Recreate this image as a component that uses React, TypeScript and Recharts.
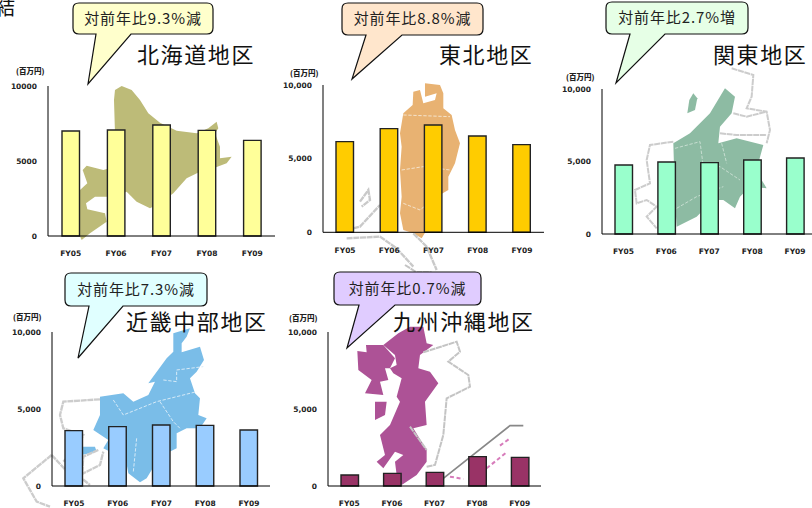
import { BarChart, Bar, XAxis, YAxis } from 'recharts';

const fiscalYears = ['FY05', 'FY06', 'FY07', 'FY08', 'FY09'];
const yTicks = [0, 5000, 10000];

const hokkaidoValues = [7000, 7067, 7400, 7044, 6378];
const tohokuValues = [6154, 7036, 7285, 6538, 5950];
const kantoValues = [4759, 4966, 4920, 5103, 5241];
const kinkiChubuValues = [3593, 3853, 3961, 3939, 3636];
const kyushuOkinawaValues = [714, 823, 887, 1905, 1861];

const JP_FONT = '"Noto Sans CJK JP", "Noto Sans", sans-serif';
const TICK_FONT = '"DejaVu Sans", sans-serif';

const AXIS_GUTTER = 40;
const TOP_PAD = 8;
const XAXIS_HEIGHT = 26;

interface RegionChartProps {
  values: number[];
  color: string;
  originX: number;
  topY: number;
  bottomY: number;
  band: number;
  grouped?: boolean;
}

const RegionChart = ({ values, color, originX, topY, bottomY, band, grouped = true }: RegionChartProps) => {
  const data = fiscalYears.map((name, i) => ({ name, value: values[i] }));
  return (
    <div style={{ position: 'absolute', left: originX - AXIS_GUTTER, top: topY - TOP_PAD }}>
      <BarChart
        width={AXIS_GUTTER + band * 5}
        height={TOP_PAD + (bottomY - topY) + XAXIS_HEIGHT}
        data={data}
        margin={{ top: TOP_PAD, right: 0, bottom: 0, left: 0 }}
        barCategoryGap="0%"
      >
        <XAxis
          dataKey="name"
          height={XAXIS_HEIGHT}
          tickLine={false}
          tickMargin={9}
          interval={0}
          axisLine={{ stroke: '#000', strokeWidth: 1 }}
          tick={{ fontSize: 7.5, fontWeight: 700, fontFamily: TICK_FONT, fill: '#222' }}
        />
        <YAxis
          width={AXIS_GUTTER}
          domain={[0, 10000]}
          ticks={yTicks}
          interval={0}
          tickSize={0}
          tickMargin={11}
          axisLine={{ stroke: '#000', strokeWidth: 1 }}
          tickFormatter={(v: number) => (grouped ? v.toLocaleString('en-US') : String(v))}
          tick={{ fontSize: 7.5, fontWeight: 700, fontFamily: TICK_FONT, fill: '#222' }}
        />
        <Bar dataKey="value" fill={color} stroke="#222" strokeWidth={1.4} barSize={17.5} isAnimationActive={false} />
      </BarChart>
    </div>
  );
};

// map silhouettes, in 3x crop coordinates (decoration only, not data)
const MapLayer = () => (
  <svg width={812} height={508} style={{ position: 'absolute', left: 0, top: 0 }}>
    <g transform="scale(0.3333)" fill="#BDBB78">
      <path d="M345,270 L365,258 L395,270 L420,300 L445,340 L480,368 L530,392 L590,400 L625,385 L650,365 L655,385 L645,400 L660,440 L660,475 L695,470 L680,490 L640,505 L600,515 L560,535 L520,580 L480,610 L450,625 L410,605 L380,575 L340,590 L320,590 L285,590 L258,610 L262,628 L315,640 L320,665 L270,700 L245,720 L236,700 L240,570 L262,550 L248,510 L260,497 L310,510 L345,500 L345,400 L342,300 Z" />
    </g>
    <g transform="translate(280,0) scale(0.3333)">
      <path fill="#E8B272" d="M435,250 L480,255 L490,280 L490,325 L515,345 L525,390 L540,430 L525,490 L505,530 L505,570 L470,590 L445,640 L440,690 L425,715 L400,700 L370,690 L360,640 L365,590 L360,510 L365,440 L360,400 L370,340 L398,315 L400,275 L420,270 L430,310 L465,300 L470,280 L435,290 Z" />
      <g fill="none" stroke="#C9C9C9" strokeWidth={7} strokeDasharray="18 2">
        <path d="M240,605 L265,570 L270,600 L245,620" />
        <path d="M200,690 L240,680 L300,615" />
        <path d="M200,715 L300,710 L350,745 L400,800" />
        <path d="M400,700 L440,740 L470,810" />
      </g>
      <g fill="none" stroke="#F4E3CC" strokeWidth={3} strokeDasharray="10 5">
        <path d="M370,345 L510,350" />
        <path d="M365,510 L430,500 L510,510" />
        <path d="M370,610 L420,630 L470,590" />
      </g>
    </g>
    <g transform="translate(550,0) scale(0.3333)">
      <path fill="#8DBBA3" d="M525,265 L555,290 L545,340 L510,380 L505,430 L560,415 L640,435 L625,490 L635,540 L650,565 L600,560 L570,590 L555,625 L520,600 L490,600 L440,650 L380,680 L375,600 L370,430 L420,400 L480,340 Z" />
      <path fill="#8DBBA3" d="M430,280 L442,295 L435,330 L412,340 L418,300 Z" />
      <g fill="none" stroke="#CCCCCC" strokeWidth={6} strokeDasharray="18 2">
        <path d="M545,205 L610,225 L605,290 L590,325 L650,335 L660,390 L650,430" />
        <path d="M550,340 L590,350 L650,335" />
        <path d="M510,400 L560,405 L650,405" />
        <path d="M370,425 L300,435 L290,480 L300,550 L255,570 L260,610 L290,600 L320,620 L290,650 L320,685" />
      </g>
      <g fill="none" stroke="#C6DDD0" strokeWidth={3} strokeDasharray="10 5">
        <path d="M375,445 L450,425 L460,500 L510,500 L570,540" />
        <path d="M515,430 L530,490" />
        <path d="M380,625 L440,590 L520,560" />
      </g>
    </g>
    <g transform="translate(0,265) scale(0.3333)">
      <path fill="#7ABDE8" d="M520,205 L570,190 L560,215 L545,235 L545,262 L600,245 L612,285 L590,320 L570,340 L585,385 L600,400 L595,450 L620,460 L600,490 L560,490 L530,505 L530,550 L500,565 L470,590 L440,640 L420,652 L385,625 L375,570 L330,560 L310,550 L325,525 L280,495 L300,450 L300,395 L370,385 L400,410 L445,390 L465,350 L445,355 L500,280 L520,260 Z" />
      <path fill="#7ABDE8" d="M245,545 L285,545 L290,560 L245,570 Z" />
      <g fill="none" stroke="#CCCCCC" strokeWidth={7} strokeDasharray="18 2">
        <path d="M300,403 L190,410 L180,450 L190,490 L250,510 L230,550 L190,590" />
        <path d="M295,555 L250,575 L245,640 L270,660" />
        <path d="M155,570 L70,640 L110,710 L150,725" />
        <path d="M155,570 L220,640 L300,600 L310,560" />
      </g>
      <g fill="none" stroke="#D6EAF7" strokeWidth={3} strokeDasharray="10 5">
        <path d="M490,345 L530,350 L530,315 L610,305" />
        <path d="M340,405 L370,450 L470,410 L590,380" />
        <path d="M410,520 L400,620" />
        <path d="M480,410 L520,470 L540,490" />
      </g>
    </g>
    <g transform="translate(280,265) scale(0.3333)">
      <path fill="#AD5296" d="M355,205 L390,185 L430,185 L440,235 L460,240 L420,270 L415,310 L450,320 L475,355 L435,410 L440,480 L400,490 L440,555 L440,590 L410,630 L365,660 L350,630 L345,590 L370,570 L345,560 L310,610 L290,590 L315,570 L300,510 L330,480 L360,410 L350,395 L365,340 L340,325 L330,310 L350,300 L345,270 L310,240 Z" />
      <path fill="#AD5296" d="M258,240 L310,240 L345,280 L330,310 L315,310 L325,345 L300,350 L310,390 L255,385 L275,345 L235,315 L232,258 L260,262 Z" />
      <path fill="#AD5296" d="M285,410 L320,410 L315,450 L285,465 Z" />
      <g fill="none" stroke="#C4C4C4" strokeWidth={6} strokeDasharray="18 2">
        <path d="M430,262 L530,230 L540,260 L505,290 L565,330 L570,365 L500,400 L490,510 L465,600 L440,605" />
        <path d="M390,485 L440,555" />
        <path d="M375,0 L410,22 L455,22" />
      </g>
      <path d="M490,640 L690,482 L730,482" fill="none" stroke="#888" strokeWidth={5} />
      <g fill="none" stroke="#D77CBB" strokeWidth={6} strokeDasharray="12 8">
        <path d="M510,635 L550,642" />
        <path d="M620,610 L680,562" />
        <path d="M660,542 L690,520" />
      </g>
    </g>
  </svg>
);

interface Callout {
  label: string;
  fill: string;
  x: number;
  y: number;
  w: number;
  h: number;
  tail: [number, number, number, number];
}

const callouts: Callout[] = [
  { label: '対前年比9.3%減', fill: '#FFFFCC', x: 73, y: 3, w: 140, h: 31, tail: [96, 88, 84, 131] },
  { label: '対前年比8.8%減', fill: '#FFE6CC', x: 342, y: 3, w: 141, h: 32, tail: [366, 352, 79, 402] },
  { label: '対前年比2.7%増', fill: '#E6FFE6', x: 606, y: 2, w: 142, h: 32, tail: [630, 616, 83, 665] },
  { label: '対前年比7.3%減', fill: '#E0FFFF', x: 65, y: 273, w: 142, h: 33, tail: [89, 78, 358, 123] },
  { label: '対前年比0.7%減', fill: '#E0CCFF', x: 334, y: 272, w: 147, h: 33, tail: [359, 347, 348, 395] },
];

const titles = [
  { text: '北海道地区', x: 137, y: 63 },
  { text: '東北地区', x: 439, y: 63 },
  { text: '関東地区', x: 713, y: 63 },
  { text: '近畿中部地区', x: 126, y: 330 },
  { text: '九州沖縄地区', x: 393, y: 330 },
];

const unitLabels = [
  { x: 16, y: 74 },
  { x: 290, y: 75.5 },
  { x: 566, y: 79.5 },
  { x: 13, y: 319.5 },
  { x: 289, y: 320.5 },
];

const bubblePath = ({ x, y, w, h, tail }: Callout) => {
  const r = 6;
  const [t1, tipX, tipY, t2] = tail;
  const b = y + h;
  return `M${x + r},${y} H${x + w - r} Q${x + w},${y} ${x + w},${y + r} V${b - r} Q${x + w},${b} ${x + w - r},${b} H${t2} L${tipX},${tipY} L${t1},${b} H${x + r} Q${x},${b} ${x},${b - r} V${y + r} Q${x},${y} ${x + r},${y} Z`;
};

const OverlayLayer = () => (
  <svg width={812} height={508} style={{ position: 'absolute', left: 0, top: 0 }}>
    <text x={-5} y={15} fontSize={20} fontFamily={JP_FONT} fill="#111">結</text>
    {callouts.map((c) => (
      <g key={c.label}>
        <path d={bubblePath(c)} fill={c.fill} stroke="#111" strokeWidth={1.2} />
        <text x={c.x + c.w / 2} y={c.y + c.h / 2 + 5} textAnchor="middle" fontSize={15} letterSpacing={0.9} fontFamily={JP_FONT} fill="#222">
          {c.label}
        </text>
      </g>
    ))}
    {titles.map((t) => (
      <text key={t.text} x={t.x} y={t.y} fontSize={22} letterSpacing={1.6} fontFamily={JP_FONT} fill="#111">
        {t.text}
      </text>
    ))}
    {unitLabels.map((u) => (
      <text key={`${u.x}-${u.y}`} x={u.x} y={u.y} fontSize={7.5} fontWeight={900} fontFamily={JP_FONT} fill="#222">
        (百万円)
      </text>
    ))}
  </svg>
);

export default function App() {
  return (
    <div style={{ position: 'absolute', left: 0, top: 0, width: 812, height: 508, overflow: 'hidden', background: '#fff' }}>
      <MapLayer />
      <RegionChart values={hokkaidoValues} color="#FFFF99" originX={48} topY={86} bottomY={236} band={45.4} grouped={false} />
      <RegionChart values={tohokuValues} color="#FFCC00" originX={323.3} topY={85} bottomY={232.3} band={44.2} />
      <RegionChart values={kantoValues} color="#99FFCC" originX={602.3} topY={89.3} bottomY={234.3} band={42.9} />
      <RegionChart values={kinkiChubuValues} color="#99CCFF" originX={51.7} topY={332} bottomY={486} band={43.75} />
      <RegionChart values={kyushuOkinawaValues} color="#993366" originX={327.7} topY={332} bottomY={486} band={42.6} />
      <OverlayLayer />
    </div>
  );
}
